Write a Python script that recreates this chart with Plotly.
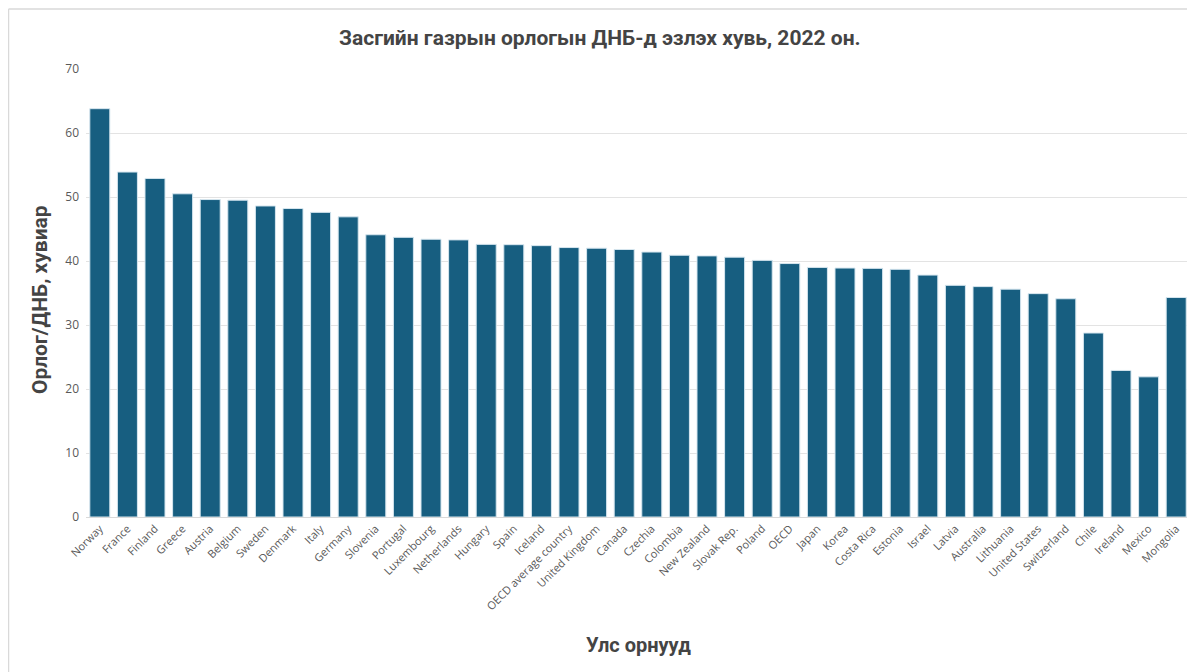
import plotly.graph_objects as go

countries = ["Norway", "France", "Finland", "Greece", "Austria", "Belgium", "Sweden", "Denmark",
             "Italy", "Germany", "Slovenia", "Portugal", "Luxembourg", "Netherlands", "Hungary",
             "Spain", "Iceland", "OECD average country", "United Kingdom", "Canada", "Czechia",
             "Colombia", "New Zealand", "Slovak Rep.", "Poland", "OECD", "Japan", "Korea",
             "Costa Rica", "Estonia", "Israel", "Latvia", "Australia", "Lithuania",
             "United States", "Switzerland", "Chile", "Ireland", "Mexico", "Mongolia"]
values = [63.8, 53.9, 52.9, 50.5, 49.6, 49.5, 48.6, 48.2,
          47.6, 46.9, 44.1, 43.7, 43.4, 43.3, 42.6,
          42.55, 42.4, 42.1, 42.0, 41.8, 41.4,
          40.9, 40.8, 40.6, 40.1, 39.6, 39.0, 38.9,
          38.85, 38.7, 37.8, 36.2, 36.0, 35.6,
          34.9, 34.1, 28.75, 22.9, 21.9, 34.3]
y_ticks = [0, 10, 20, 30, 40, 50, 60, 70]

title_text = "Засгийн газрын орлогын ДНБ-д эзлэх хувь, 2022 он."
x_title = "Улс орнууд"
y_title = "Орлог/ДНБ, хувиар"

# page body has an 8px margin, so the figure is slightly smaller than the window
W, H = 1187, 664
L, R, T, B = 78, 5, 61, 155
pw, ph = W - L - R, H - T - B

fig = go.Figure(go.Bar(
    x=countries, y=values,
    marker=dict(color="#175E80", line=dict(color="#D6E6EF", width=1)),
))

title_font = dict(family="Roboto, sans-serif", color="#444444", weight="bold")

fig.update_layout(
    width=W, height=H,
    margin=dict(l=L, r=R, t=T, b=B, autoexpand=False),
    paper_bgcolor="white", plot_bgcolor="white",
    bargap=0.275,
    showlegend=False,
    font=dict(family="Open Sans, sans-serif", color="#595959"),
)

fig.update_xaxes(
    tickangle=-45, tickfont=dict(size=11, color="#595959"),
    showgrid=False, showline=True, linecolor="#D9D9D9", linewidth=1,
    ticks="", automargin=False,
)
fig.update_yaxes(
    range=[0, 70], tickvals=y_ticks, tickfont=dict(size=12, color="#595959"),
    showgrid=True, gridcolor="#E3E3E3", gridwidth=1, zeroline=False,
    showline=False, ticks="", ticklabelstandoff=6, automargin=False,
)

def px(xf):
    return (xf - L) / pw

def py(yf):
    return (H - B - yf) / ph

fig.add_annotation(text=title_text, xref="paper", yref="paper", x=px(592), y=py(30),
                   showarrow=False, xanchor="center", yanchor="middle",
                   font=dict(size=21, **title_font))
fig.add_annotation(text=x_title, xref="paper", yref="paper", x=px(630), y=py(637),
                   showarrow=False, xanchor="center", yanchor="middle",
                   font=dict(size=20, **title_font))
fig.add_annotation(text=y_title, xref="paper", yref="paper", x=px(32), y=py(292),
                   showarrow=False, xanchor="center", yanchor="middle", textangle=-90,
                   font=dict(size=21, **title_font))

# chart frame (left and top edges visible)
fig.add_shape(type="line", xref="paper", yref="paper", x0=px(0.5), x1=px(0.5), y0=-1, y1=py(1),
              line=dict(color="#D9D9D9", width=1.5))
fig.add_shape(type="line", xref="paper", yref="paper", x0=px(0.5), x1=1.2, y0=py(1), y1=py(1),
              line=dict(color="#D9D9D9", width=1.5))

fig.write_html("out.html")
